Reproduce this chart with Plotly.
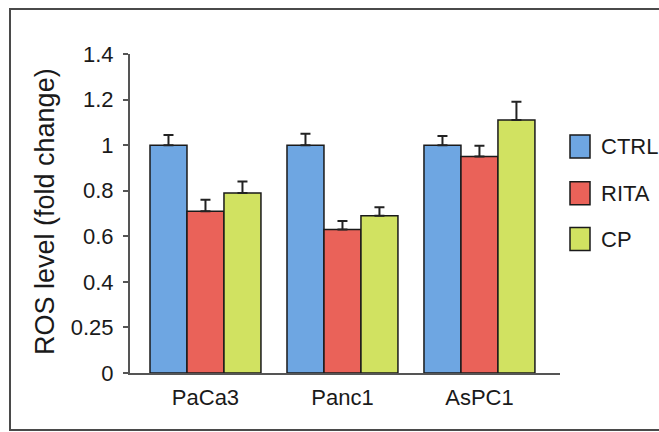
import plotly.graph_objects as go

categories = ["PaCa3", "Panc1", "AsPC1"]
series_names = ["CTRL", "RITA", "CP"]
ctrl_values = [1.00, 1.00, 1.00]
rita_values = [0.71, 0.63, 0.95]
cp_values = [0.79, 0.69, 1.11]
ctrl_err = [0.045, 0.05, 0.04]
rita_err = [0.05, 0.037, 0.047]
cp_err = [0.05, 0.037, 0.08]
y_tick_vals = [0, 0.2, 0.4, 0.6, 0.8, 1.0, 1.2, 1.4]
y_tick_text = ["0", "0.25", "0.4", "0.6", "0.8", "1", "1.2", "1.4"]

colors = ["#6EA6E2", "#EA6259", "#D1E261"]
values = [ctrl_values, rita_values, cp_values]
errors = [ctrl_err, rita_err, cp_err]

W, H = 659, 432
L, R, T, B = 130, 99, 54, 59
PW, PH = W - L - R, H - T - B

def px_x(x):
    return (x - L) / PW

def px_y(y):
    return (H - B - y) / PH

FONT = "Liberation Sans, Arial, sans-serif"
TXT = "#1a1a1a"
FS = 22

fig = go.Figure()
for name, vals, errs, col in zip(series_names, values, errors, colors):
    fig.add_trace(go.Bar(
        x=categories, y=vals, name=name,
        marker=dict(color=col, line=dict(color="#1a1a1a", width=1.5)),
        error_y=dict(type="data", array=errs, arrayminus=[0] * len(errs),
                     symmetric=False, color="#222222", thickness=2, width=5),
        showlegend=False,
    ))

shapes = [
    # outer frame
    dict(type="rect", xref="paper", yref="paper",
         x0=px_x(10), x1=px_x(664), y0=px_y(430), y1=px_y(9),
         line=dict(color="#4a4a4a", width=2), fillcolor="rgba(0,0,0,0)"),
]
annotations = []
legend_centers = [146.5, 193.3, 239]
for name, col, cy in zip(series_names, colors, legend_centers):
    shapes.append(dict(type="rect", xref="paper", yref="paper",
                       x0=px_x(570), x1=px_x(590), y0=px_y(cy + 11.5), y1=px_y(cy - 11.5),
                       fillcolor=col, line=dict(color="#1a1a1a", width=1.5)))
    annotations.append(dict(xref="paper", yref="paper", x=px_x(599), y=px_y(cy),
                            xanchor="left", yanchor="middle", text=name, showarrow=False,
                            font=dict(family=FONT, size=FS, color=TXT)))

annotations.append(dict(xref="paper", yref="paper", x=px_x(45), y=px_y(212),
                        xanchor="center", yanchor="middle", textangle=-90,
                        text="ROS level (fold change)", showarrow=False,
                        font=dict(family=FONT, size=27, color=TXT)))

fig.update_layout(
    width=W, height=H,
    margin=dict(l=L, r=R, t=T, b=B, autoexpand=False),
    paper_bgcolor="white", plot_bgcolor="white",
    barmode="group", bargap=0.19, bargroupgap=0,
    font=dict(family=FONT, size=FS, color=TXT),
    shapes=shapes, annotations=annotations,
    xaxis=dict(type="category", range=[-0.551, 2.588], showline=True,
               linecolor="#555555", linewidth=2, ticks="", showgrid=False,
               tickfont=dict(family=FONT, size=FS, color=TXT),
               ticklabelstandoff=4, zeroline=False),
    yaxis=dict(range=[0, 1.4], tickvals=y_tick_vals, ticktext=y_tick_text,
               showline=True, linecolor="#555555", linewidth=2,
               ticks="outside", ticklen=5, tickwidth=2, tickcolor="#555555",
               showgrid=False, zeroline=False, ticklabelstandoff=5,
               tickfont=dict(family=FONT, size=FS, color=TXT)),
)

fig.write_html("out.html", config={"displayModeBar": False},
               post_script="document.body.style.margin='0';document.body.style.overflow='hidden';")
